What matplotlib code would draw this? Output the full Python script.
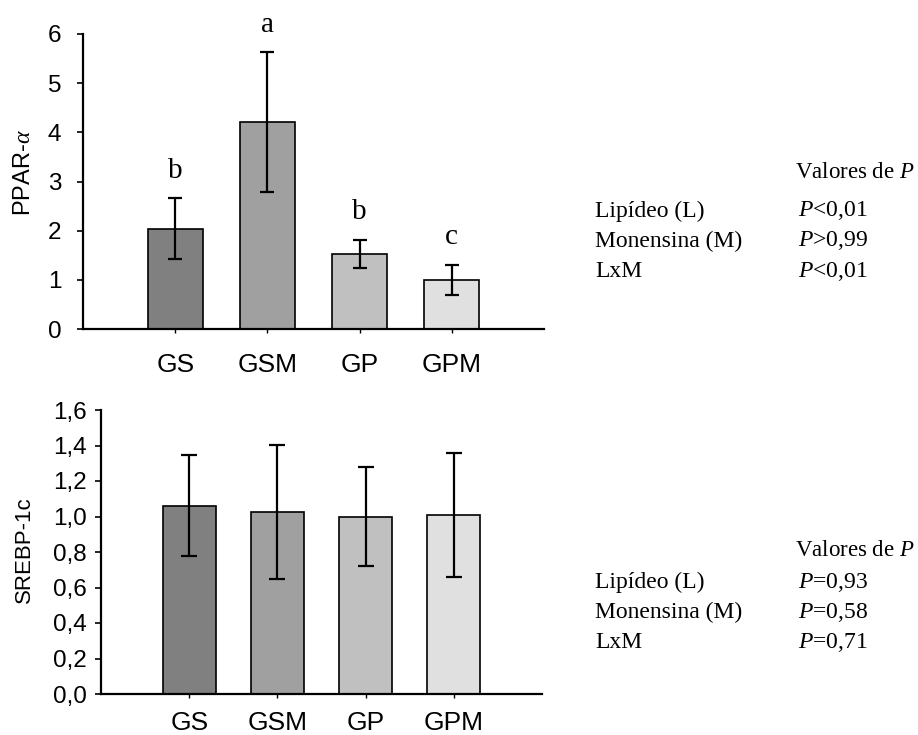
import matplotlib
matplotlib.use("Agg")
import matplotlib.pyplot as plt
import numpy as np

plt.rcParams['mathtext.fontset'] = 'custom'
plt.rcParams['mathtext.rm'] = 'Liberation Serif'
plt.rcParams['mathtext.it'] = 'Liberation Serif:italic'
plt.rcParams['font.family'] = ['Liberation Sans', 'DejaVu Sans']

categories = ['GS', 'GSM', 'GP', 'GPM']
colors = ['#808080', '#a0a0a0', '#c0c0c0', '#e0e0e0']

ppar_values = [2.04, 4.21, 1.53, 1.00]
ppar_err = [0.62, 1.43, 0.29, 0.31]
ppar_letters = ['b', 'a', 'b', 'c']

srebp_values = [1.06, 1.025, 1.00, 1.01]
srebp_err = [0.285, 0.377, 0.281, 0.349]

factor_names = ['Lipídeo (L)', 'Monensina (M)', 'LxM']
ppar_p = ['$P$<0,01', '$P$>0,99', '$P$<0,01']
srebp_p = ['$P$=0,93', '$P$=0,58', '$P$=0,71']

W, H = 918, 735
fig = plt.figure(figsize=(W / 100, H / 100), dpi=100)

def ax_rect(l, r, b, t):
    return [l / W, 1 - b / H, (r - l) / W, (b - t) / H]

ax1 = fig.add_axes(ax_rect(83, 544, 329, 34))
ax2 = fig.add_axes(ax_rect(101, 542, 694, 410))

x = np.arange(len(categories))

def style(ax, pad_y, pad_x, fs_y):
    for s in ['top', 'right']:
        ax.spines[s].set_visible(False)
    for s in ['left', 'bottom']:
        ax.spines[s].set_linewidth(1.6)
    ax.set_xlim(-1, 4)
    ax.set_xticks(x)
    ax.set_xticklabels(categories, fontsize=19)
    ax.tick_params(axis='x', direction='out', length=3, width=1, pad=pad_x)
    ax.tick_params(axis='y', direction='out', length=4, width=1.2, pad=pad_y, labelsize=fs_y)

# Top chart
ax1.bar(x, ppar_values, width=0.6, color=colors, edgecolor='black', linewidth=1.2, zorder=2)
ax1.errorbar(x, ppar_values, yerr=ppar_err, fmt='none', ecolor='black',
             elinewidth=1.6, capsize=5, capthick=1.6, zorder=3)
ax1.set_ylim(0, 6)
ax1.set_yticks(range(0, 7))
style(ax1, 11.5, 14, 17.5)
for xi, v, e, lab in zip(x, ppar_values, ppar_err, ppar_letters):
    ax1.annotate(lab, xy=(xi, v + e), xytext=(0, 14.5), textcoords='offset points',
                 ha='center', va='baseline', fontsize=21, family='Liberation Serif')

# Bottom chart
ax2.bar(x, srebp_values, width=0.6, color=colors, edgecolor='black', linewidth=1.2, zorder=2)
ax2.errorbar(x, srebp_values, yerr=srebp_err, fmt='none', ecolor='black',
             elinewidth=1.6, capsize=5.5, capthick=1.6, zorder=3)
ax2.set_ylim(0, 1.6)
yt = np.arange(0, 1.61, 0.2)
ax2.set_yticks(yt)
ax2.set_yticklabels([f"{v:.1f}".replace('.', ',') for v in yt])
style(ax2, 6.5, 9, 17.5)

# Y labels
fig.text(24 / W, 1 - 173 / H, r'PPAR-$\alpha$', rotation=90, ha='center', va='center', fontsize=17)
fig.text(24 / W, 1 - 550 / H, 'SREBP-1c', rotation=90, ha='center', va='center', fontsize=16)

# P-value tables
def ptable(y_head, ys, pvals):
    fig.text(795 / W, 1 - y_head / H, 'Valores de $P$', ha='left', va='center',
             fontsize=16.5, family='Liberation Serif')
    for yy, name, pv in zip(ys, factor_names, pvals):
        fig.text(595 / W, 1 - yy / H, name, ha='left', va='center',
                 fontsize=17, family='Liberation Serif')
        fig.text(798 / W, 1 - yy / H, pv, ha='left', va='center',
                 fontsize=17, family='Liberation Serif')

ptable(173, [211, 241, 271], ppar_p)
ptable(550, [582, 612, 642], srebp_p)

fig.savefig('out.png', dpi=100)
